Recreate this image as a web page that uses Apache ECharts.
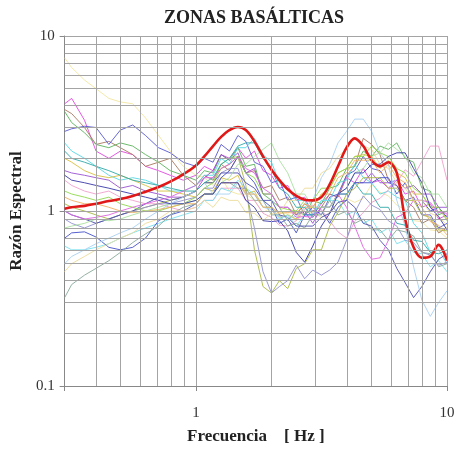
<!DOCTYPE html>
<html><head><meta charset="utf-8">
<script src="https://cdn.jsdelivr.net/npm/echarts@6/dist/echarts.min.js"></script>
<style>html,body{margin:0;padding:0;background:#fff}#c{width:458px;height:456px}</style>
</head><body><div id="c"></div>
<script>
// Frequencies (Hz) shared by all curves
const freq = [0.3,0.32,0.36,0.4,0.45,0.5,0.56,0.63,0.71,0.79,0.89,
  1.0,1.08,1.17,1.26,1.36,1.47,1.58,1.71,1.85,2.0,
  2.15,2.32,2.51,2.71,2.92,3.16,3.41,3.68,3.98,4.29,
  4.64,5.01,5.41,5.84,6.31,6.81,7.36,7.94,8.58,9.26,10];

// Mean spectral ratio (thick red)
const meanRatio = [1.03,1.05,1.07,1.1,1.14,1.17,1.22,1.29,1.37,1.47,1.62,
  1.82,2.05,2.35,2.65,2.9,3.02,2.9,2.5,2.05,1.72,
  1.5,1.33,1.22,1.16,1.15,1.2,1.42,1.8,2.3,2.6,
  2.35,1.95,1.8,1.9,1.65,0.9,0.62,0.54,0.55,0.64,0.52];

// Individual station spectral ratios
const st01 = [7.5,6.6,5.6,5.0,4.4,4.2,4.1,3.4,2.7,2.2,1.8,
  1.6,1.55,1.4,1.55,1.3,1.25,1.25,1.15,0.98,1.05,
  0.98,0.97,0.88,0.97,0.98,0.92,0.98,1.12,1.18,1.12,
  1.18,1.42,1.28,1.22,1.08,1.02,0.88,0.87,0.78,0.77,0.7];
const st02 = [4.1,4.4,3.3,2.2,2.0,2.2,2.1,1.8,1.7,1.6,1.5,
  1.6,1.8,1.7,2.1,2.0,2.3,2.0,2.2,1.7,1.6,
  1.35,1.4,1.15,1.2,0.95,1.1,1.25,1.2,1.55,1.45,
  1.75,1.45,1.5,1.35,1.5,1.25,1.3,1.05,1.1,0.9,0.95];
const st03 = [3.8,3.6,3.0,2.4,2.5,2.3,2.1,1.8,1.9,2.0,1.6,
  1.4,1.6,1.5,1.85,1.7,2.05,1.65,1.7,1.35,1.4,
  1.15,1.2,0.95,1.1,1.0,1.05,1.25,1.2,1.6,1.8,
  2.6,2.4,2.1,1.5,1.4,1.15,1.05,0.85,0.9,0.75,0.8];
const st04 = [2.85,2.95,3.05,3.0,2.4,2.9,3.1,2.7,2.3,2.15,1.9,
  1.8,2.0,1.9,2.4,2.2,2.7,2.5,1.9,1.8,1.45,
  1.5,1.15,1.2,0.95,1.05,0.95,1.2,1.25,1.6,1.7,
  2.05,1.75,1.7,1.45,1.4,1.15,1.2,0.95,0.95,0.8,0.85];
const st05 = [3.7,3.2,2.8,2.4,2.3,2.45,2.35,2.1,1.9,1.7,1.6,
  1.5,1.7,1.65,2.1,1.95,2.3,1.8,1.85,1.25,1.15,
  1.05,0.88,1.0,0.95,1.15,1.1,1.35,1.4,1.75,1.8,
  2.2,2.05,2.35,2.25,2.45,2.0,1.9,1.35,1.3,0.95,1.0];
const st06 = [2.45,2.2,2.0,1.8,1.6,1.5,1.55,1.5,1.4,1.3,1.3,
  1.4,1.6,1.6,2.0,1.85,2.3,2.3,2.6,2.1,1.9,
  1.45,1.35,1.15,1.15,0.95,1.15,1.15,1.45,1.5,1.85,
  1.55,1.45,1.25,1.3,1.2,1.15,0.85,0.75,0.58,0.6,0.5];
const st07 = [2.0,1.9,1.7,1.6,1.55,1.6,1.5,1.4,1.3,1.3,1.25,
  1.2,1.35,1.3,1.55,1.5,1.6,1.25,1.3,1.05,1.05,
  0.92,0.95,0.9,1.05,1.05,1.25,1.35,1.65,1.75,2.05,
  2.1,2.05,1.75,1.95,1.65,1.55,1.25,1.25,1.05,1.05,0.9];
const st08 = [1.7,1.65,1.6,1.55,1.5,1.35,1.4,1.3,1.25,1.2,1.2,
  1.3,1.55,1.7,2.1,1.95,2.15,1.65,1.75,1.25,1.25,
  1.05,1.05,0.95,1.0,0.85,1.05,1.05,1.25,1.25,1.45,
  1.45,1.65,1.45,1.45,1.5,1.35,1.4,1.25,1.25,1.05,1.05];
const st09 = [1.5,1.4,1.3,1.25,1.3,1.2,1.15,1.1,1.1,1.05,1.0,
  1.05,1.15,1.15,1.35,1.35,1.35,1.15,1.15,0.97,0.92,
  0.83,0.82,0.88,1.02,1.08,1.02,0.88,0.76,0.7,0.87,
  0.98,1.12,1.18,1.32,1.45,1.72,1.58,1.92,2.35,2.35,1.5];
const st10 = [0.63,0.6,0.6,0.62,0.65,0.7,0.75,0.8,0.85,0.9,0.95,
  1.0,1.15,1.15,1.35,1.3,1.5,1.35,1.25,1.05,1.05,
  0.9,0.95,0.82,0.95,0.95,1.15,1.15,1.15,0.95,1.0,
  0.85,0.9,0.75,0.8,0.65,0.68,0.58,0.57,0.48,0.52,0.45];
const st11 = [0.7,0.75,0.76,0.71,0.62,0.6,0.62,0.7,0.88,0.95,1.0,
  1.1,1.25,1.25,1.55,1.7,2.05,1.65,1.45,1.15,1.05,
  0.85,0.9,0.75,0.95,0.95,1.0,0.85,1.05,1.15,1.45,
  1.45,1.45,1.55,1.55,1.25,1.45,1.15,1.15,1.0,1.05,0.92];
const st12 = [0.32,0.38,0.43,0.47,0.52,0.58,0.66,0.74,0.82,0.95,1.05,
  1.1,1.25,1.25,1.45,1.45,1.35,1.35,1.15,1.15,0.95,
  0.95,0.82,0.85,0.8,0.95,0.95,1.15,0.95,1.0,0.85,
  0.9,0.78,0.78,0.68,0.78,0.76,0.72,0.58,0.57,0.48,0.5];
const st13 = [1.1,1.05,1.0,0.95,0.9,0.95,1.0,1.05,1.1,1.15,1.2,
  1.3,1.45,1.45,1.75,1.85,2.05,1.4,0.6,0.37,0.34,
  0.4,0.36,0.47,0.5,0.6,0.6,0.82,0.98,1.25,1.35,
  1.55,1.55,1.55,1.35,1.35,1.15,1.15,0.95,0.92,0.78,0.77];
const st14 = [0.9,0.85,0.8,0.85,0.9,0.95,1.0,1.05,1.1,1.1,1.15,
  1.2,1.35,1.35,1.65,1.75,1.75,1.3,0.8,0.45,0.34,
  0.37,0.4,0.49,0.41,0.46,0.43,0.46,0.51,0.68,0.98,
  1.22,1.08,1.02,0.88,0.82,0.68,0.66,0.58,0.56,0.49,0.51];
const st15 = [1.0,0.95,0.9,0.85,0.9,0.95,1.0,1.1,1.2,1.15,1.2,
  1.3,1.45,1.45,1.65,1.65,1.65,1.45,1.35,1.15,1.15,
  0.95,0.92,0.82,0.82,0.82,0.92,0.97,1.12,1.15,1.05,
  0.85,0.82,0.68,0.6,0.47,0.39,0.32,0.37,0.45,0.53,0.57];
const st16 = [0.5,0.55,0.6,0.65,0.7,0.75,0.8,0.9,1.0,1.1,1.2,
  1.3,1.45,1.25,1.25,1.25,1.45,1.25,1.25,1.05,1.02,
  0.93,0.92,0.93,1.05,1.15,1.55,1.85,2.45,2.85,3.35,
  3.35,2.85,2.15,1.85,1.15,0.82,0.48,0.31,0.25,0.3,0.35];
const st17 = [1.3,1.25,1.2,1.15,1.2,1.1,1.05,1.0,1.0,1.05,1.1,
  1.2,1.35,1.45,1.85,2.0,2.05,1.65,1.55,1.25,1.25,
  1.05,1.02,1.0,1.15,1.15,1.35,1.35,1.65,1.75,2.05,
  2.05,2.35,2.15,2.05,1.75,1.65,1.35,1.25,1.05,1.05,0.88];
const st18 = [2.2,2.0,1.9,1.8,1.7,1.6,1.5,1.45,1.4,1.35,1.3,
  1.3,1.45,1.55,1.85,2.0,2.35,2.45,2.45,2.0,1.75,
  1.35,1.25,1.05,1.05,0.92,1.05,1.05,1.25,1.25,1.45,
  1.25,1.25,1.05,1.05,0.85,0.83,0.68,0.67,0.58,0.57,0.6];
const st19 = [1.2,1.15,1.1,1.1,1.05,1.0,0.98,1.0,1.02,1.05,1.1,
  1.1,1.25,1.25,1.45,1.45,1.45,1.25,1.25,1.05,1.05,
  0.97,0.98,0.97,1.1,1.05,1.25,1.25,1.55,1.65,1.95,
  1.95,1.95,1.65,1.85,1.55,1.45,1.15,1.05,0.87,0.83,0.73];
const st20 = [1.0,0.95,0.9,0.92,0.95,1.0,1.05,1.1,1.15,1.2,1.3,
  1.4,1.55,1.55,1.75,1.85,2.05,1.75,1.65,1.35,1.25,
  1.05,1.05,0.92,0.93,0.92,1.05,1.05,1.25,1.05,0.82,
  0.62,0.53,0.54,0.68,0.92,0.97,1.15,1.15,1.12,0.98,0.97];
const st21 = [0.8,0.82,0.85,0.9,0.88,0.9,0.95,1.0,1.05,1.1,1.1,
  1.15,1.25,1.25,1.45,1.55,1.85,1.85,2.05,2.25,2.45,
  1.95,1.65,1.25,1.25,1.05,1.05,1.05,1.25,1.35,1.65,
  1.75,2.05,2.15,2.45,2.25,2.05,1.65,1.55,1.25,1.25,1.05];
const st22 = [0.45,0.5,0.55,0.6,0.65,0.7,0.75,0.85,0.9,1.0,1.0,
  1.05,1.15,1.05,1.2,1.15,1.15,0.98,0.97,0.88,0.97,
  0.97,1.15,1.15,1.35,1.35,1.65,1.75,2.05,2.25,2.65,
  2.35,2.25,1.85,1.75,1.45,1.35,1.15,1.15,0.97,0.93,0.83];
const st23 = [1.6,1.5,1.45,1.4,1.35,1.3,1.25,1.2,1.15,1.1,1.1,
  1.15,1.25,1.25,1.45,1.45,1.45,1.15,1.05,0.88,0.87,
  0.88,0.77,0.58,0.51,0.63,0.82,0.97,1.25,1.35,1.65,
  1.65,1.85,1.85,2.05,2.15,2.15,1.75,1.45,1.05,0.93,0.78];

const stations = [st01,st02,st03,st04,st05,st06,st07,st08,st09,st10,st11,st12,
  st13,st14,st15,st16,st17,st18,st19,st20,st21,st22,st23];

// Axis tick labels and grid values
const xTickLabels = [1, 10];
const yTickLabels = [0.1, 1, 10];
const xGridValues = [0.4,0.5,0.6,0.7,0.8,0.9,1,2,3,4,5,6,7,8,9,10];
const yGridValues = [0.2,0.3,0.4,0.5,0.6,0.7,0.8,0.9,1,2,3,4,5,6,7,8,9,10];

// Styling (kept apart from data)
const stationColors = ['#f2e6a0','#e048e0','#a8785e','#5858d0','#5cb45c','#56d8e4','#d8c040',
  '#9a52d0','#f0a0cc','#78e0f0','#4450c8','#88a898','#a8b840','#9090d0','#5050b0',
  '#a8d0f2','#90d850','#30a8a8','#f0b060','#e064e0','#a8e0a0','#ecdc98','#3838a8'];

const FONT = '"Liberation Serif", "DejaVu Serif", serif';
const near = (a, b) => Math.abs(a - b) < 1e-6 * Math.max(1, b);

const series = [];
series.push({
  type: 'line', data: [], z: 1, silent: true,
  markLine: {
    silent: true, symbol: ['none','none'], animation: false,
    label: {show: false},
    lineStyle: {color: '#a4a4a4', width: 1, type: 'solid'},
    emphasis: {disabled: true},
    data: xGridValues.map(v => ({xAxis: v})).concat(yGridValues.map(v => ({yAxis: v})))
  }
});
stations.forEach((vals, i) => {
  series.push({
    type: 'line', z: 2, symbol: 'none', silent: true, animation: false,
    data: freq.map((f, k) => [f, vals[k]]),
    lineStyle: {color: stationColors[i], width: 1, opacity: 0.9}
  });
});
series.push({
  type: 'line', z: 3, symbol: 'none', silent: true, animation: false, smooth: 0.35,
  data: freq.map((f, k) => [f, meanRatio[k]]),
  lineStyle: {color: '#e01818', width: 2.6}
});

const chart = echarts.init(document.getElementById('c'), null, {renderer: 'canvas'});
chart.setOption({
  animation: false,
  backgroundColor: '#ffffff',
  title: {
    text: 'ZONAS BASÁLTICAS', left: 249, top: 4, textAlign: 'center',
    textStyle: {fontFamily: FONT, fontSize: 18, fontWeight: 'bold', color: '#222'}
  },
  grid: {left: 63, right: 11, top: 36, bottom: 70, containLabel: false},
  xAxis: {
    type: 'log', logBase: 10, min: 0.3, max: 10,
    name: 'Frecuencia    [ Hz ]', nameLocation: 'middle', nameGap: 42,
    nameTextStyle: {fontFamily: FONT, fontSize: 17, fontWeight: 'bold', color: '#222'},
    axisLine: {show: true, lineStyle: {color: '#888', width: 1}},
    axisTick: {show: true, length: 5, lineStyle: {color: '#888'}},
    splitLine: {show: false},
    axisLabel: {
      margin: 20, fontFamily: FONT, fontSize: 15, color: '#333',
      formatter: v => { const t = xTickLabels.find(x => near(v, x)); return t === undefined ? '' : String(t); }
    }
  },
  yAxis: {
    type: 'log', logBase: 10, min: 0.1, max: 10,
    name: 'Razón Espectral', nameLocation: 'middle', nameGap: 34,
    nameTextStyle: {fontFamily: FONT, fontSize: 17, fontWeight: 'bold', color: '#222'},
    axisLine: {show: true, lineStyle: {color: '#888', width: 1}},
    axisTick: {show: true, length: 5, lineStyle: {color: '#888'}},
    splitLine: {show: false},
    axisLabel: {
      margin: 10, fontFamily: FONT, fontSize: 15, color: '#333',
      formatter: v => { const t = yTickLabels.find(y => near(v, y)); return t === undefined ? '' : String(t); }
    }
  },
  series: series
});
</script>
</body></html>
